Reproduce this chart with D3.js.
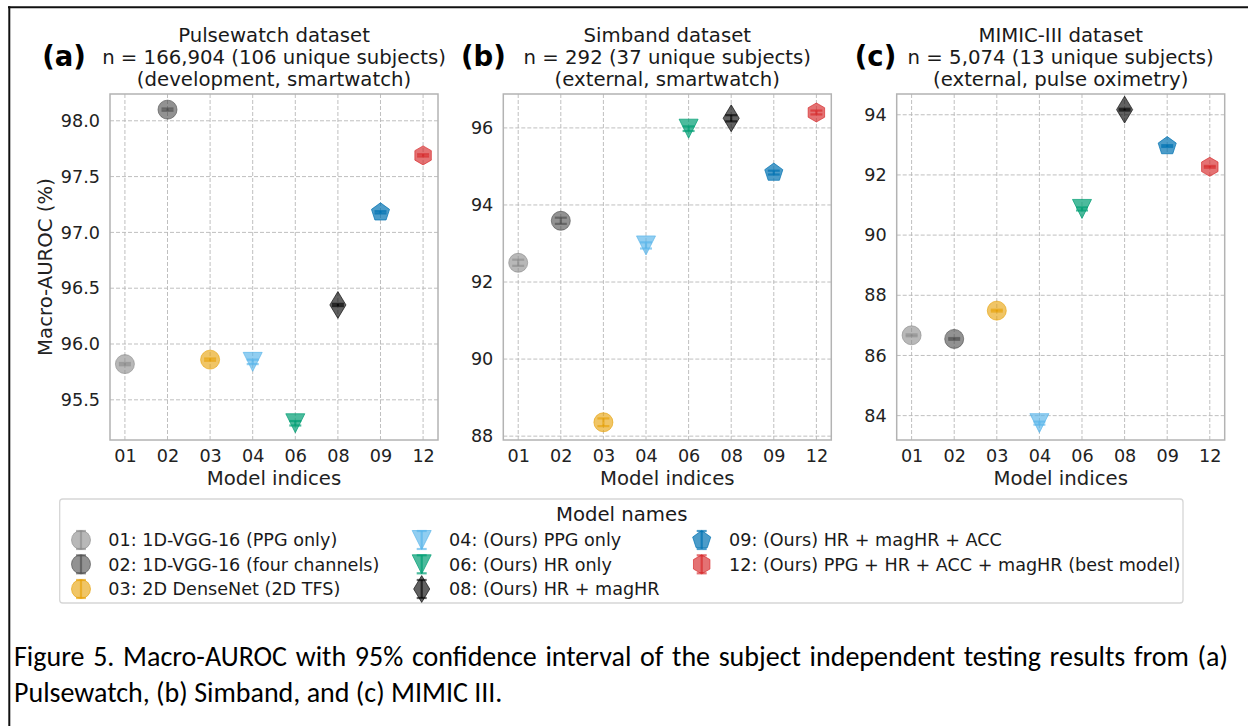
<!DOCTYPE html>
<html>
<head>
<meta charset="utf-8">
<script src="https://cdn.jsdelivr.net/npm/d3@7"></script>
<style>
  body { margin: 0; background: #fff; }
  #wrap { position: relative; width: 1248px; height: 726px; overflow: hidden; background: #fff; }
  .caption { position: absolute; left: 14px; width: 1214px; color: #000;
             font-family: Carlito, Lato, "Open Sans", sans-serif; font-size: 28px; line-height: 34px; }
  .justify { text-align: justify; text-align-last: justify; }
</style>
</head>
<body>
<div id="wrap"></div>
<script>
'use strict';

// model indices and names
var modelIds = ["01", "02", "03", "04", "06", "08", "09", "12"];
var modelNames = [
  "01: 1D-VGG-16 (PPG only)",
  "02: 1D-VGG-16 (four channels)",
  "03: 2D DenseNet (2D TFS)",
  "04: (Ours) PPG only",
  "06: (Ours) HR only",
  "08: (Ours) HR + magHR",
  "09: (Ours) HR + magHR + ACC",
  "12: (Ours) PPG + HR + ACC + magHR (best model)"
];

// Macro-AUROC (%) and half width of the 95% CI
var aurocPulsewatch = [95.82, 98.10, 95.86, 95.84, 95.29, 96.35, 97.18, 97.69];
var ciPulsewatch    = [0.01, 0.01, 0.01, 0.02, 0.02, 0.01, 0.01, 0.01];
var aurocSimband    = [92.50, 93.59, 88.36, 92.95, 95.98, 96.25, 94.84, 96.40];
var ciSimband       = [0.08, 0.08, 0.10, 0.08, 0.06, 0.08, 0.05, 0.05];
var aurocMimic      = [86.67, 86.55, 87.49, 83.75, 90.87, 94.17, 92.96, 92.27];
var ciMimic         = [0.03, 0.03, 0.03, 0.05, 0.05, 0.03, 0.03, 0.03];

// y axis ticks and limits
var yTicksPulsewatch = [95.5, 96.0, 96.5, 97.0, 97.5, 98.0];
var yTicksSimband    = [88, 90, 92, 94, 96];
var yTicksMimic      = [84, 86, 88, 90, 92, 94];
var yLimPulsewatch   = [95.14, 98.24];
var yLimSimband      = [87.90, 96.88];
var yLimMimic        = [83.19, 94.69];

var titlePulsewatch = ["Pulsewatch dataset", "n = 166,904 (106 unique subjects)", "(development, smartwatch)"];
var titleSimband    = ["Simband dataset", "n = 292 (37 unique subjects)", "(external, smartwatch)"];
var titleMimic      = ["MIMIC-III dataset", "n = 5,074 (13 unique subjects)", "(external, pulse oximetry)"];

// marker style for every model
var styles = {
  "01": {shape: "o", color: "#888888", alpha: 0.6},
  "02": {shape: "o", color: "#4a4a4a", alpha: 0.6},
  "03": {shape: "o", color: "#E69F00", alpha: 0.6},
  "04": {shape: "v", color: "#56B4E9", alpha: 0.65},
  "06": {shape: "v", color: "#009E73", alpha: 0.7},
  "08": {shape: "d", color: "#000000", alpha: 0.62},
  "09": {shape: "p", color: "#0072B2", alpha: 0.7},
  "12": {shape: "h", color: "#D62728", alpha: 0.65}
};

var FONT = "'DejaVu Sans', sans-serif";
var MS = 19;          // marker size (px)
var plotTop = 94, plotH = 346, plotW = 328;

function polygon(n, r) {
  var pts = d3.range(n).map(function(k) { return [k * 2 * Math.PI / n, r]; });
  return d3.lineRadial().curve(d3.curveLinearClosed)(pts);
}

function markerPath(shape, s) {
  var r = s / 2;
  if (shape === "o") return d3.symbol(d3.symbolCircle, Math.PI * r * r)();
  if (shape === "v") return "M0," + r + "L" + (-r) + "," + (-r) + "L" + r + "," + (-r) + "Z";
  if (shape === "d") {
    var hh = s * Math.SQRT1_2, hw = 0.6 * hh;
    return "M0," + (-hh) + "L" + hw + ",0L0," + hh + "L" + (-hw) + ",0Z";
  }
  if (shape === "p") return polygon(5, r);
  return polygon(6, r);
}

var wrap = d3.select("#wrap");
var svg = wrap.append("svg")
    .attr("width", 1248)
    .attr("height", 726)
    .style("position", "absolute")
    .style("left", 0).style("top", 0);

// figure frame
svg.append("line").attr("x1", 8).attr("x2", 1248).attr("y1", 7.3).attr("y2", 7.3)
    .attr("stroke", "#111").attr("stroke-width", 2);
svg.append("line").attr("x1", 9.3).attr("x2", 9.3).attr("y1", 6.3).attr("y2", 726)
    .attr("stroke", "#111").attr("stroke-width", 2);

var panels = [
  {letter: "(a)", title: titlePulsewatch, values: aurocPulsewatch, ci: ciPulsewatch,
   ticks: yTicksPulsewatch, lim: yLimPulsewatch, fmt: ".1f", left: 110, letterX: 64},
  {letter: "(b)", title: titleSimband, values: aurocSimband, ci: ciSimband,
   ticks: yTicksSimband, lim: yLimSimband, fmt: "d", left: 503.3, letterX: 483.3},
  {letter: "(c)", title: titleMimic, values: aurocMimic, ci: ciMimic,
   ticks: yTicksMimic, lim: yLimMimic, fmt: "d", left: 896.7, letterX: 875.5}
];

function drawErrorbar(g, x, y0, y1, cap, color, alpha) {
  g.append("line").attr("x1", x).attr("x2", x).attr("y1", y0).attr("y2", y1);
  g.append("line").attr("x1", x - cap).attr("x2", x + cap).attr("y1", y0).attr("y2", y0);
  g.append("line").attr("x1", x - cap).attr("x2", x + cap).attr("y1", y1).attr("y2", y1);
  g.selectAll("line").attr("stroke", color).attr("stroke-opacity", alpha)
      .attr("stroke-width", 2.2);
}

panels.forEach(function(p) {
  var x = d3.scalePoint().domain(modelIds).range([p.left, p.left + plotW]).padding(0.35);
  var y = d3.scaleLinear().domain(p.lim).range([plotTop + plotH, plotTop]);
  var g = svg.append("g");

  // grid
  g.selectAll("line.vgrid").data(modelIds).join("line")
      .attr("class", "vgrid")
      .attr("x1", function(d) { return x(d); }).attr("x2", function(d) { return x(d); })
      .attr("y1", plotTop).attr("y2", plotTop + plotH);
  g.selectAll("line.hgrid").data(p.ticks).join("line")
      .attr("class", "hgrid")
      .attr("x1", p.left).attr("x2", p.left + plotW)
      .attr("y1", function(d) { return y(d); }).attr("y2", function(d) { return y(d); });
  g.selectAll("line.vgrid, line.hgrid")
      .attr("stroke", "#b8b8b8").attr("stroke-width", 0.9).attr("stroke-dasharray", "4,2");

  // frame
  g.append("rect").attr("x", p.left).attr("y", plotTop).attr("width", plotW).attr("height", plotH)
      .attr("fill", "none").attr("stroke", "#b3b3b3").attr("stroke-width", 1.5);

  // axes
  var xa = g.append("g").attr("transform", "translate(0," + (plotTop + plotH) + ")")
      .call(d3.axisBottom(x).tickSize(0).tickPadding(10));
  var ya = g.append("g").attr("transform", "translate(" + p.left + ",0)")
      .call(d3.axisLeft(y).tickValues(p.ticks).tickFormat(d3.format(p.fmt)).tickSize(0).tickPadding(10));
  [xa, ya].forEach(function(a) {
    a.select(".domain").remove();
    a.attr("font-family", FONT).attr("font-size", 17.6);
    a.selectAll("text").attr("fill", "#222");
  });

  // x label
  g.append("text").attr("x", p.left + plotW / 2).attr("y", 485)
      .attr("text-anchor", "middle").attr("font-family", FONT).attr("font-size", 19.7)
      .attr("fill", "#222").text("Model indices");

  // title
  g.selectAll("text.title").data(p.title).join("text")
      .attr("class", "title")
      .attr("x", p.left + plotW / 2)
      .attr("y", function(d, i) { return 42.3 + i * 21.6; })
      .attr("text-anchor", "middle").attr("font-family", FONT).attr("font-size", 19.7)
      .attr("fill", "#1a1a1a").text(function(d) { return d; });

  g.append("text").attr("x", p.letterX).attr("y", 66)
      .attr("text-anchor", "middle").attr("font-family", FONT).attr("font-weight", "bold")
      .attr("font-size", 27.5).attr("fill", "#000").text(p.letter);

  // points
  var pts = g.selectAll("g.pt").data(modelIds).join("g").attr("class", "pt");
  pts.each(function(id, i) {
    var s = styles[id];
    var pg = d3.select(this);
    var cx = x(id), cy = y(p.values[i]);
    pg.append("path")
        .attr("transform", "translate(" + cx + "," + cy + ")")
        .attr("d", markerPath(s.shape, MS))
        .attr("fill", s.color).attr("fill-opacity", s.alpha)
        .attr("stroke", s.color).attr("stroke-opacity", s.alpha).attr("stroke-width", 1);
    var eg = pg.append("g");
    drawErrorbar(eg, cx, y(p.values[i] - p.ci[i]), y(p.values[i] + p.ci[i]), 6, s.color, s.alpha);
  });
});

// y label (only first panel)
svg.append("text")
    .attr("transform", "translate(51.5," + (plotTop + plotH / 2) + ") rotate(-90)")
    .attr("text-anchor", "middle").attr("font-family", FONT).attr("font-size", 19.7)
    .attr("fill", "#222").text("Macro-AUROC (%)");

// legend
var legend = svg.append("g");
legend.append("rect").attr("x", 59.7).attr("y", 499).attr("width", 1123.3).attr("height", 104)
    .attr("rx", 3).attr("fill", "#fff").attr("stroke", "#d6d6d6").attr("stroke-width", 1.3);
legend.append("text").attr("x", 621.7).attr("y", 520.5).attr("text-anchor", "middle")
    .attr("font-family", FONT).attr("font-size", 19.7).attr("fill", "#1a1a1a").text("Model names");

var legendCols = [81, 421.7, 701.7];
var legendRows = [540, 564.3, 589];
modelIds.forEach(function(id, i) {
  var s = styles[id];
  var cx = legendCols[Math.floor(i / 3)], cy = legendRows[i % 3];
  var lg = legend.append("g");
  lg.append("path")
      .attr("transform", "translate(" + cx + "," + cy + ")")
      .attr("d", markerPath(s.shape, MS))
      .attr("fill", s.color).attr("fill-opacity", s.alpha)
      .attr("stroke", s.color).attr("stroke-opacity", s.alpha).attr("stroke-width", 1);
  drawErrorbar(lg.append("g"), cx, cy - 9, cy + 9, 5, s.color, s.alpha);
  lg.append("text").attr("x", cx + 27.3).attr("y", cy + 6.2)
      .attr("font-family", FONT).attr("font-size", 17.6).attr("fill", "#1a1a1a")
      .text(modelNames[i]);
});

// caption
wrap.append("div").attr("class", "caption justify").style("top", "640px")
    .text("Figure 5. Macro-AUROC with 95% confidence interval of the subject independent testing results from (a)");
wrap.append("div").attr("class", "caption").style("top", "676px")
    .text("Pulsewatch, (b) Simband, and (c) MIMIC III.");
</script>
</body>
</html>
